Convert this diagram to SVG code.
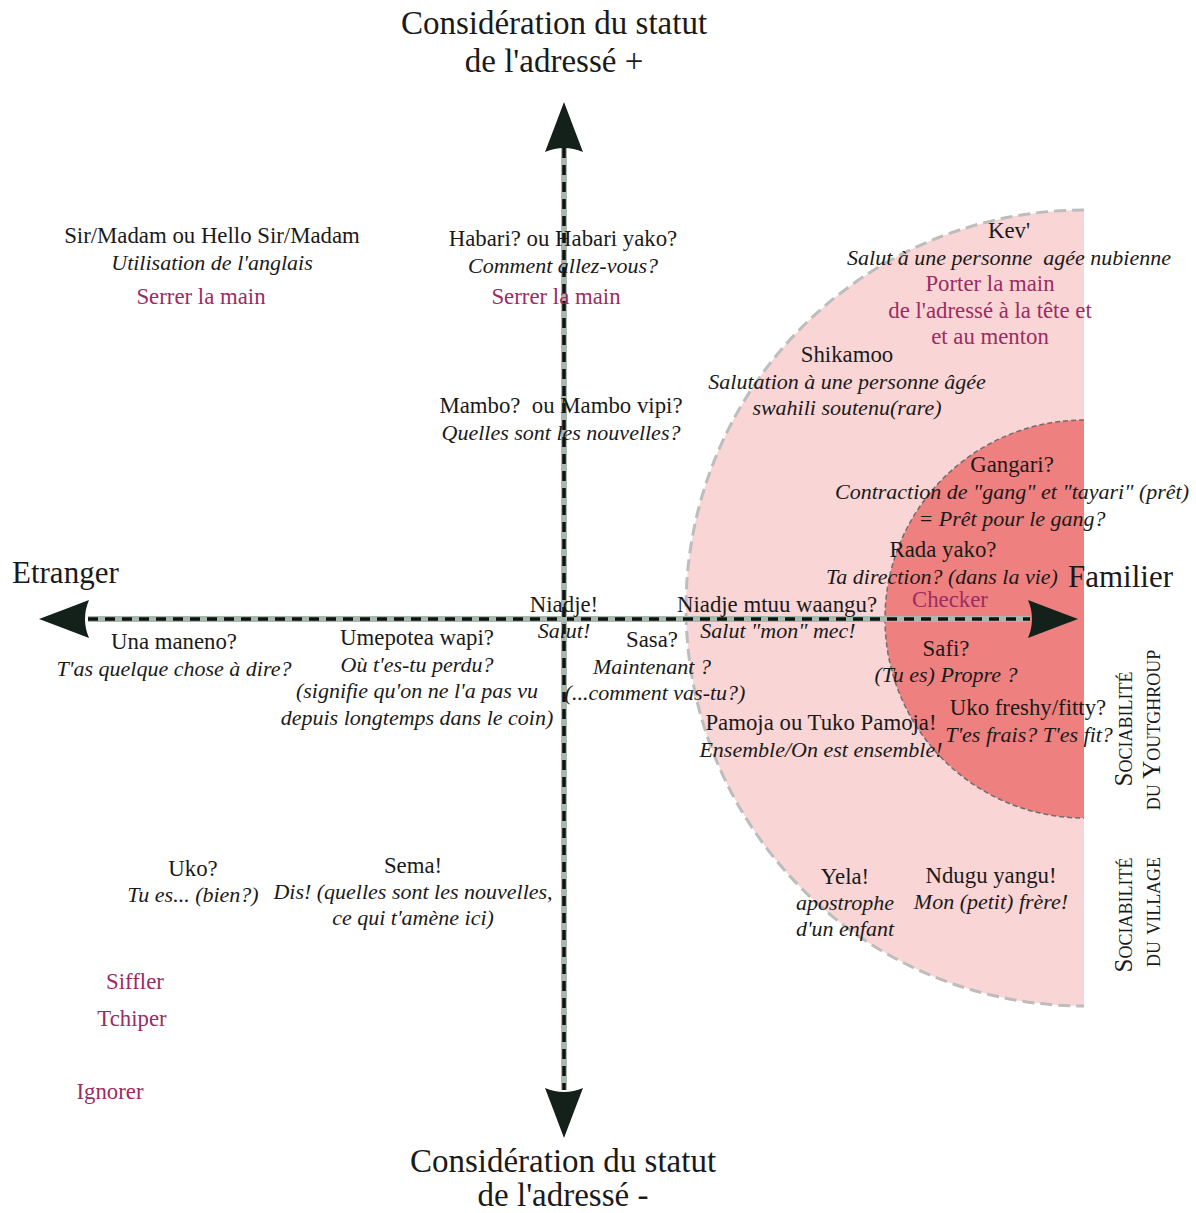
<svg xmlns="http://www.w3.org/2000/svg" width="1196" height="1213" viewBox="0 0 1196 1213">
<defs>
<style>
text{font-family:"Liberation Serif","Times New Roman",serif;fill:#1a1a1a;font-size:22.8px;text-anchor:middle}
.i{font-style:italic;font-size:22px}
.m{fill:#9b2c63}
.t{font-size:33px}
.ax{font-size:31px;text-anchor:start}
.sc{font-variant:small-caps;font-size:25px}
.axg{stroke:#a9b8ad;stroke-width:6;fill:none}
.axd{stroke:#111;stroke-width:3.5;stroke-dasharray:10 7;fill:none}
.ah{fill:#13211a}
</style>
<path id="arr" d="M0,0 Q-24,-9 -50,-19 Q-42,0 -50,19 Q-24,9 0,0 Z"/>
</defs>
<rect width="1196" height="1213" fill="#fff"/>

<g id="zone-village">
<path d="M1084,210 A398,398 0 0 0 1084,1006 Z" fill="#f9d5d5"/>
<path d="M1084,210 A398,398 0 0 0 1084,1006" fill="none" stroke="#bdbdbd" stroke-width="3" stroke-dasharray="12 6"/>
</g>
<g id="zone-youthgroup">
<path d="M1084,420 A199,199 0 0 0 1084,818 Z" fill="#ef8080"/>
<path d="M1084,420 A199,199 0 0 0 1084,818" fill="none" stroke="#6e6e6e" stroke-width="1.5" stroke-dasharray="5 3"/>
</g>

<g id="connectors">
<line class="axg" x1="88" y1="619" x2="1030" y2="619"/>
<line class="axd" x1="88" y1="619" x2="1030" y2="619"/>
<line class="axg" x1="564" y1="148" x2="564" y2="1090"/>
<line class="axd" x1="564" y1="148" x2="564" y2="1090"/>
<use href="#arr" class="ah" transform="translate(1078,619)"/>
<use href="#arr" class="ah" transform="translate(39,619) rotate(180)"/>
<use href="#arr" class="ah" transform="translate(564,102) rotate(-90)"/>
<use href="#arr" class="ah" transform="translate(564,1138) rotate(90)"/>
</g>

<g id="axis-top"><text class="t" x="554" y="34">Considération du statut</text><text class="t" x="554" y="72">de l'adressé +</text></g>
<g id="axis-bottom"><text class="t" x="563" y="1172">Considération du statut</text><text class="t" x="563" y="1206">de l'adressé -</text></g>
<g id="axis-left"><text class="t ax" x="12" y="583">Etranger</text></g>
<g id="axis-right"><text class="t ax" x="1068" y="587">Familier</text></g>

<g id="sir-madam"><text x="212" y="243">Sir/Madam ou Hello Sir/Madam</text><text class="i" x="212" y="270">Utilisation de l'anglais</text><text class="m" x="201" y="304">Serrer la main</text></g>
<g id="habari"><text x="563" y="246">Habari? ou Habari yako?</text><text class="i" x="563" y="273">Comment allez-vous?</text><text class="m" x="556" y="304">Serrer la main</text></g>
<g id="mambo"><text x="561" y="413" xml:space="preserve">Mambo?  ou Mambo vipi?</text><text class="i" x="561" y="440">Quelles sont les nouvelles?</text></g>
<g id="kev"><text x="1009" y="238">Kev'</text><text class="i" x="1009" y="265" xml:space="preserve">Salut à une personne  agée nubienne</text><text class="m" x="990" y="291">Porter la main</text><text class="m" x="990" y="318">de l'adressé à la tête et</text><text class="m" x="990" y="344">et au menton</text></g>
<g id="shikamoo"><text x="847" y="362">Shikamoo</text><text class="i" x="847" y="389">Salutation à une personne âgée</text><text class="i" x="847" y="415">swahili soutenu(rare)</text></g>
<g id="gangari"><text x="1012" y="472">Gangari?</text><text class="i" x="1012" y="499">Contraction de "gang" et "tayari" (prêt)</text><text class="i" x="1012" y="526">= Prêt pour le gang?</text></g>
<g id="rada"><text x="943" y="557">Rada yako?</text><text class="i" x="942" y="584">Ta direction? (dans la vie)</text><text class="m" x="950" y="607">Checker</text></g>
<g id="niadje"><text x="564" y="612">Niadje!</text><text class="i" x="564" y="638">Salut!</text></g>
<g id="niadje-mtuu"><text x="777" y="612">Niadje mtuu waangu?</text><text class="i" x="778" y="638">Salut "mon" mec!</text></g>
<g id="una-maneno"><text x="174" y="649">Una maneno?</text><text class="i" x="174" y="676">T'as quelque chose à dire?</text></g>
<g id="umepotea"><text x="417" y="645">Umepotea wapi?</text><text class="i" x="417" y="672">Où t'es-tu perdu?</text><text class="i" x="417" y="698">(signifie qu'on ne l'a pas vu</text><text class="i" x="417" y="725">depuis longtemps dans le coin)</text></g>
<g id="sasa"><text x="652" y="647">Sasa?</text><text class="i" x="652" y="674">Maintenant ?</text><text class="i" x="655" y="700">(...comment vas-tu?)</text></g>
<g id="safi"><text x="946" y="656">Safi?</text><text class="i" x="946" y="682">(Tu es) Propre ?</text></g>
<g id="uko-freshy"><text x="1028" y="715">Uko freshy/fitty?</text><text class="i" x="1029" y="742">T'es frais? T'es fit?</text></g>
<g id="pamoja"><text x="821" y="730">Pamoja ou Tuko Pamoja!</text><text class="i" x="821" y="757">Ensemble/On est ensemble!</text></g>
<g id="uko"><text x="193" y="876">Uko?</text><text class="i" x="193" y="902">Tu es... (bien?)</text></g>
<g id="sema"><text x="413" y="873">Sema!</text><text class="i" x="413" y="899">Dis! (quelles sont les nouvelles,</text><text class="i" x="413" y="925">ce qui t'amène ici)</text></g>
<g id="yela"><text x="845" y="884">Yela!</text><text class="i" x="845" y="910">apostrophe</text><text class="i" x="845" y="936">d'un enfant</text></g>
<g id="ndugu"><text x="991" y="883">Ndugu yangu!</text><text class="i" x="991" y="909">Mon (petit) frère!</text></g>
<g id="siffler"><text class="m" x="135" y="989">Siffler</text></g>
<g id="tchiper"><text class="m" x="132" y="1026">Tchiper</text></g>
<g id="ignorer"><text class="m" x="110" y="1099">Ignorer</text></g>

<g id="label-youthgroup"><text class="sc" transform="translate(1132,729) rotate(-90)">Sociabilité</text><text class="sc" transform="translate(1160,730) rotate(-90)">du Youtghroup</text></g>
<g id="label-village"><text class="sc" transform="translate(1132,915) rotate(-90)">Sociabilité</text><text class="sc" transform="translate(1160,912) rotate(-90)">du village</text></g>
</svg>
